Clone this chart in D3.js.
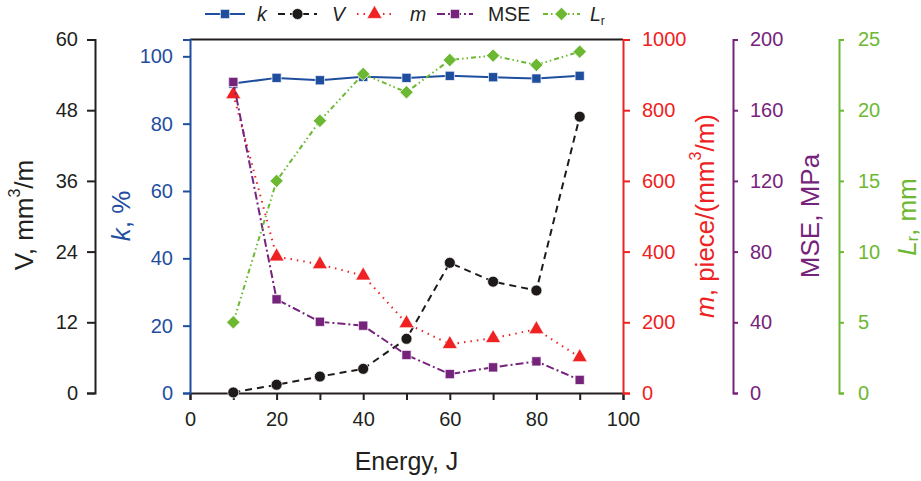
<!DOCTYPE html>
<html>
<head>
<meta charset="utf-8">
<script src="https://cdn.jsdelivr.net/npm/d3@7"></script>
<style>
  html, body { margin: 0; padding: 0; background: #fff; }
  svg { display: block; font-family: Arial, "Liberation Sans", sans-serif; }
</style>
</head>
<body>
<svg id="chart" width="921" height="481"></svg>
<script>
// Impact energy (J)
const energy = [10, 20, 30, 40, 50, 60, 70, 80, 90];
// k, %
const kValues = [91.9, 93.6, 92.9, 93.9, 93.6, 94.2, 93.8, 93.4, 94.2];
// V, mm3/m
const vValues = [0.1, 1.4, 2.8, 4.1, 9.2, 22.1, 18.9, 17.4, 46.9];
// m, piece/(mm3/m)
const mValues = [845, 386, 364, 332, 197, 138, 155, 180, 101];
// MSE, MPa
const mseValues = [176, 53, 40.3, 38.1, 21.5, 10.7, 14.5, 17.9, 7.4];
// Lr, mm
const lrValues = [5.0, 15.0, 19.25, 22.56, 21.27, 23.55, 23.86, 23.2, 24.14];

const xTicks = [0, 20, 40, 60, 80, 100];
const xMinorTicks = [0, 10, 20, 30, 40, 50, 60, 70, 80, 90, 100];
const vTicks = [0, 12, 24, 36, 48, 60];
const kTicks = [0, 20, 40, 60, 80, 100];
const mTicks = [0, 200, 400, 600, 800, 1000];
const mseTicks = [0, 40, 80, 120, 160, 200];
const lrTicks = [0, 5, 10, 15, 20, 25];

const C = {
  k: "#1f4e9f",
  v: "#1e1a1a",
  m: "#ee2222",
  mse: "#76237c",
  lr: "#6cb832",
  axis: "#231f20"
};

const svg = d3.select("#chart");
const x0 = 190, x1 = 623, yTop = 39.5, yBot = 393;

const x = d3.scaleLinear().domain([0, 100]).range([x0, x1]);
const yV = d3.scaleLinear().domain([0, 60]).range([yBot, yTop]);
const yK = d3.scaleLinear().domain([0, 105]).range([yBot, yTop]);
const yM = d3.scaleLinear().domain([0, 1000]).range([yBot, yTop]);
const yMSE = d3.scaleLinear().domain([0, 200]).range([yBot, yTop]);
const yLr = d3.scaleLinear().domain([0, 25]).range([yBot, yTop]);

const tickFont = 20;
const plain = d3.format("d");

function styleAxis(g, color) {
  g.select(".domain").attr("stroke", color).attr("stroke-width", 2);
  g.selectAll(".tick line").attr("stroke", color).attr("stroke-width", 2);
  g.selectAll(".tick text").attr("fill", color).attr("font-size", tickFont)
    .attr("font-family", 'Arial, "Liberation Sans", sans-serif');
}

// Top frame line
svg.append("line").attr("x1", x0).attr("x2", x1).attr("y1", yTop).attr("y2", yTop)
  .attr("stroke", C.axis).attr("stroke-width", 2);

// X axis: minor ticks every 10, labels every 20
svg.append("g").attr("transform", `translate(0,${yBot})`)
  .call(d3.axisBottom(x).tickValues(xMinorTicks).tickSizeOuter(0).tickSize(7).tickPadding(8)
    .tickFormat(d => xTicks.includes(d) ? plain(d) : ""))
  .call(g => styleAxis(g, C.axis))
  .call(g => g.selectAll(".tick text").attr("dy", "0.9em"));

// V axis (far left)
svg.append("g").attr("transform", "translate(95,0)")
  .call(d3.axisLeft(yV).tickValues(vTicks).tickFormat(plain).tickSizeOuter(0).tickSize(8).tickPadding(9))
  .call(g => styleAxis(g, C.axis));

// k axis (plot left edge)
svg.append("g").attr("transform", `translate(${x0},0)`)
  .call(d3.axisLeft(yK).tickValues(kTicks).tickFormat(plain).tickSizeOuter(0).tickSize(7).tickPadding(10))
  .call(g => styleAxis(g, C.k));

// m axis (plot right edge)
svg.append("g").attr("transform", `translate(${x1},0)`)
  .call(d3.axisRight(yM).tickValues(mTicks).tickFormat(plain).tickSizeOuter(0).tickSize(7).tickPadding(12))
  .call(g => styleAxis(g, C.m));

// MSE axis
svg.append("g").attr("transform", "translate(733,0)")
  .call(d3.axisRight(yMSE).tickValues(mseTicks).tickFormat(plain).tickSizeOuter(0).tickSize(5).tickPadding(12))
  .call(g => styleAxis(g, C.mse));

// Lr axis
svg.append("g").attr("transform", "translate(839,0)")
  .call(d3.axisRight(yLr).tickValues(lrTicks).tickFormat(plain).tickSizeOuter(0).tickSize(5).tickPadding(14))
  .call(g => styleAxis(g, C.lr));

// Axis titles
const titleFont = 26;
function vTitle(cx, cy, color, build) {
  const t = svg.append("text")
    .attr("transform", `translate(${cx},${cy}) rotate(-90)`)
    .attr("text-anchor", "middle").attr("dominant-baseline", "central")
    .attr("font-size", titleFont).attr("fill", color);
  build(t);
}
vTitle(24, 215, C.axis, t => {
  t.append("tspan").text("V, mm");
  t.append("tspan").attr("font-size", 16).attr("dy", -10).text("3");
  t.append("tspan").attr("dy", 10).text("/m");
});
vTitle(121, 216, C.k, t => {
  t.append("tspan").attr("font-style", "italic").text("k");
  t.append("tspan").text(", %");
});
vTitle(705, 216, C.m, t => {
  t.append("tspan").attr("font-style", "italic").text("m");
  t.append("tspan").text(", piece/(mm");
  t.append("tspan").attr("font-size", 16).attr("dy", -10).text("3");
  t.append("tspan").attr("dy", 10).text("/m)");
});
vTitle(810, 216, C.mse, t => { t.text("MSE, MPa"); });
vTitle(907, 217, C.lr, t => {
  t.append("tspan").attr("font-style", "italic").text("L");
  t.append("tspan").attr("font-size", 16).attr("dy", 5).text("r");
  t.append("tspan").attr("dy", -5).text(", mm");
});

// X title
svg.append("text").attr("x", (x0 + x1) / 2).attr("y", 470)
  .attr("text-anchor", "middle").attr("font-size", 25).attr("fill", C.axis)
  .text("Energy, J");

// Series definitions (diamonds are squares turned 45 degrees)
const series = [
  { name: "k", vals: kValues, y: yK, color: C.k, dash: null, sym: d3.symbolSquare, size: 85, rot: 0 },
  { name: "V", vals: vValues, y: yV, color: C.v, dash: "7,5", sym: d3.symbolCircle, size: 95, rot: 0 },
  { name: "m", vals: mValues, y: yM, color: C.m, dash: "1.5,5", sym: d3.symbolTriangle, size: 100, rot: 0 },
  { name: "MSE", vals: mseValues, y: yMSE, color: C.mse, dash: "8,3,2,3", sym: d3.symbolSquare, size: 85, rot: 0 },
  { name: "Lr", vals: lrValues, y: yLr, color: C.lr, dash: "5,3,1.5,3,1.5,3", sym: d3.symbolSquare, size: 90, rot: 45 }
];

series.forEach(s => {
  const pts = energy.map((e, i) => [e, s.vals[i]]);
  const line = d3.line().x(d => x(d[0])).y(d => s.y(d[1]));
  svg.append("path").datum(pts).attr("d", line)
    .attr("fill", "none").attr("stroke", s.color).attr("stroke-width", 2)
    .attr("stroke-dasharray", s.dash);
  svg.append("g").selectAll("path").data(pts).join("path")
    .attr("transform", d => `translate(${x(d[0])},${s.y(d[1])}) rotate(${s.rot})`)
    .attr("d", d3.symbol().type(s.sym).size(s.size))
    .attr("fill", s.color).attr("stroke", "#fff").attr("stroke-width", 0.7);
});

// Legend
const legendItems = [
  { s: series[0], x1: 205, x2: 245, tx: 257 },
  { s: series[1], x1: 278, x2: 317, tx: 332 },
  { s: series[2], x1: 357, x2: 392, tx: 410 },
  { s: series[3], x1: 437, x2: 473, tx: 488 },
  { s: series[4], x1: 543, x2: 580, tx: 590 }
];
const ly = 14;
legendItems.forEach(it => {
  const g = svg.append("g");
  g.append("line").attr("x1", it.x1).attr("x2", it.x2).attr("y1", ly).attr("y2", ly)
    .attr("stroke", it.s.color).attr("stroke-width", 2).attr("stroke-dasharray", it.s.dash);
  g.append("path").attr("transform", `translate(${(it.x1 + it.x2) / 2},${ly}) rotate(${it.s.rot})`)
    .attr("d", d3.symbol().type(it.s.sym).size(it.s.size))
    .attr("fill", it.s.color).attr("stroke", "#fff").attr("stroke-width", 0.7);
  const t = g.append("text").attr("x", it.tx).attr("y", 21).attr("font-size", 19.5).attr("fill", C.axis);
  if (it.s.name === "MSE") t.text("MSE");
  else if (it.s.name === "Lr") {
    t.append("tspan").attr("font-style", "italic").text("L");
    t.append("tspan").attr("font-size", 12).attr("dy", 4).text("r");
  } else t.attr("font-style", "italic").text(it.s.name);
});
</script>
</body>
</html>
